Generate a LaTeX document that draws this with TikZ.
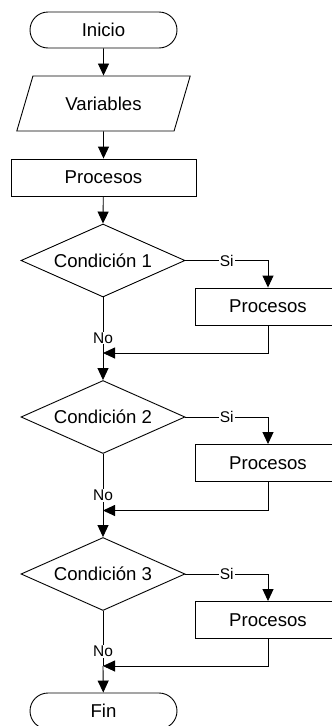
\documentclass[tikz,border=0pt]{standalone}
\usepackage{fontspec}
\setmainfont{Liberation Sans}
\usetikzlibrary{arrows.meta, shapes.geometric, shapes.misc, positioning}

\begin{document}
\begin{tikzpicture}[x=1pt, y=-1pt, line width=0.9pt,
    every node/.style={font=\fontsize{18.6}{21}\selectfont},
    terminal/.style={draw, rounded rectangle, minimum width=147, minimum height=36, inner sep=0},
    datos/.style={draw, trapezium, trapezium left angle=57.5, trapezium right angle=122.5,
        trapezium stretches=true, minimum width=175, minimum height=55, inner sep=0},
    proceso/.style={draw, rectangle, minimum width=185, minimum height=37, inner sep=0},
    lateral/.style={proceso, minimum width=146},
    decision/.style={draw, diamond, shape aspect=2.247, minimum width=164, minimum height=73, inner sep=0},
    flecha/.style={-{Triangle[length=12pt, width=11pt]}},
    etiqueta/.style={fill=white, inner sep=1pt, font=\fontsize{15.5}{17}\selectfont}]
    \useasboundingbox (0,0) rectangle (332,726);

    \node[terminal] (inicio) at (103.5,30) {Inicio};
    \node[datos] (variables) at (103.5,103.5) {Variables};
    \node[proceso] (proc0) at (103.5,177.5) {Procesos};
    \node[decision] (cond1) at (103,260.5) {Condición 1};
    \node[lateral] (proc1) at (268,306.5) {Procesos};
    \coordinate (union1) at (103,353);
    \node[decision] (cond2) at (103,417) {Condición 2};
    \node[lateral] (proc2) at (268,463) {Procesos};
    \coordinate (union2) at (103,510.5);
    \node[decision] (cond3) at (103,574) {Condición 3};
    \node[lateral] (proc3) at (268,620) {Procesos};
    \coordinate (union3) at (103,666);
    \node[terminal] (fin) at (103.5,711) {Fin};

    \draw[flecha] (inicio) -- (variables);
    \draw[flecha] (variables) -- (proc0);
    \draw[flecha] (proc0) -- (cond1.north);

    \draw[flecha] (cond1.east) -| node[etiqueta, pos=0.25] {Si} (proc1.north);
    \draw (cond1.south) -- node[etiqueta, pos=0.73] {No} (union1);
    \draw[flecha] (proc1.south) |- (union1);
    \draw[flecha] (union1) -- (cond2.north);

    \draw[flecha] (cond2.east) -| node[etiqueta, pos=0.25] {Si} (proc2.north);
    \draw (cond2.south) -- node[etiqueta, pos=0.73] {No} (union2);
    \draw[flecha] (proc2.south) |- (union2);
    \draw[flecha] (union2) -- (cond3.north);

    \draw[flecha] (cond3.east) -| node[etiqueta, pos=0.25] {Si} (proc3.north);
    \draw (cond3.south) -- node[etiqueta, pos=0.73] {No} (union3);
    \draw[flecha] (proc3.south) |- (union3);
    \draw[flecha] (union3) -- (fin);
\end{tikzpicture}
\end{document}
